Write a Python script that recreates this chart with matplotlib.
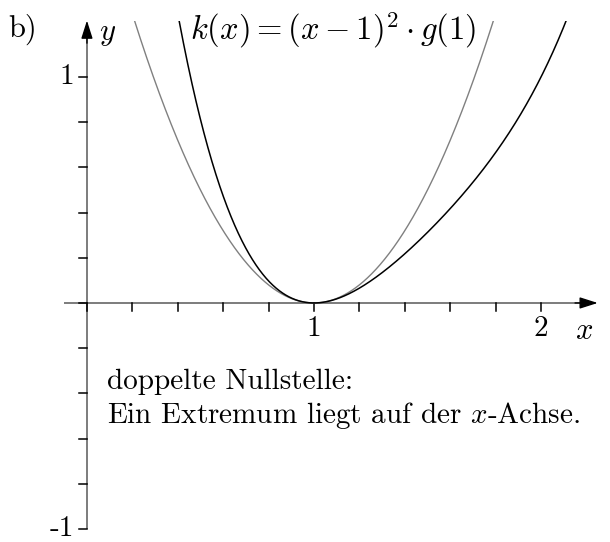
"""
Double root: f(x) = (x-1)^2 * g(x) next to its parabola k(x) = (x-1)^2 * g(1)
"""

import numpy as np
import matplotlib
matplotlib.use("Agg")
from matplotlib import pyplot as plt
from matplotlib.patches import Rectangle

plt.rcParams['mathtext.fontset'] = 'cm'

# g(x) = a*(x - b)^2 + c; root of f at x = 1
g_a, g_b, g_c = 1.0, 2.0, 1.0
root = 1.0
y_top = 1.25          # curves are cut off here

x_ticks = np.round(np.arange(0, 2.01, 0.2), 2)
y_ticks = np.round(np.arange(-1, 1.01, 0.2), 2)
x_labels = {1: "1", 2: "2"}
y_labels = {1: "1", -1: "-1"}

cm_font = 'cmr10'
fs = 21


def g(x):
    return g_a * (x - g_b) ** 2 + g_c


def f(x):
    return (x - root) ** 2 * g(x)


def k(x):
    return (x - root) ** 2 * g(root)


fig = plt.figure(figsize=(6.10, 5.42), dpi=100)
ax = fig.add_axes([0, 0, 1, 1])
ax.set_xlim(-0.383, 2.304)
ax.set_ylim(-1.058, 1.341)
ax.axis('off')

axis_col = '#666666'

# axes with arrow heads
ax.plot([-0.1, 2.2], [0, 0], color=axis_col, lw=1.2, solid_capstyle='butt', zorder=2)
ax.plot([0, 0], [-1, 1.2], color=axis_col, lw=1.2, solid_capstyle='butt', zorder=2)
head = '-|>,head_length=1.1,head_width=0.35'
ax.annotate('', xy=(2.25, 0), xytext=(2.15, 0),
            arrowprops=dict(arrowstyle=head, color='black', lw=1.0, shrinkA=0, shrinkB=0))
ax.annotate('', xy=(0, 1.25), xytext=(0, 1.15),
            arrowprops=dict(arrowstyle=head, color='black', lw=1.0, shrinkA=0, shrinkB=0))

# tick marks
tl = 0.035
for xt in x_ticks:
    ax.plot([xt, xt], [0, -tl], color='black', lw=1.1, zorder=3)
for yt in y_ticks:
    ax.plot([-tl * 226 / 227, 0], [yt, yt], color='black', lw=1.1, zorder=3)

for xt, s in x_labels.items():
    ax.text(xt, -0.058, s, ha='center', va='top', fontsize=fs, family=cm_font)
for yt, s in y_labels.items():
    ax.text(-0.055, yt, s, ha='right', va='center', fontsize=fs, family=cm_font)

ax.text(2.19, -0.058, r'$x$', ha='center', va='top', fontsize=fs + 1)
ax.text(0.055, 1.165, r'$y$', ha='left', va='baseline', fontsize=fs + 1)
ax.text(-0.345, 1.18, 'b)', ha='left', va='baseline', fontsize=fs + 1, family=cm_font)

# curves
xs = np.linspace(-0.2, 2.3, 2000)
clip = Rectangle((-1, -2), 4, 2 + y_top, transform=ax.transData)
line_k, = ax.plot(xs, k(xs), color='#808080', lw=1.0, zorder=4)
line_f, = ax.plot(xs, f(xs), color='black', lw=1.1, zorder=5)
line_k.set_clip_path(clip)
line_f.set_clip_path(clip)

ax.text(0.455, 1.165, r'$k(x) = (x-1)^2 \cdot g(1)$', ha='left', va='baseline',
        fontsize=23.5)

ax.text(0.09, -0.38, 'doppelte Nullstelle:', ha='left', va='baseline',
        fontsize=fs, family=cm_font)
ax.text(0.09, -0.53, r'Ein Extremum liegt auf der $x$-Achse.', ha='left', va='baseline',
        fontsize=fs, family=cm_font)

fig.savefig('out.png', dpi=100)
